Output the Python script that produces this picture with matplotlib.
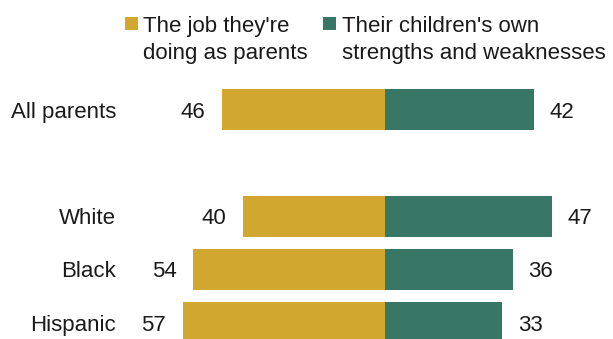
import matplotlib
matplotlib.use("Agg")
import matplotlib.pyplot as plt
from matplotlib.patches import Rectangle

plt.rcParams["font.family"] = ["Liberation Sans", "DejaVu Sans"]

# Data
groups = ["All parents", "White", "Black", "Hispanic"]
row_pos = [0, 2, 3, 4]
job_as_parents = [46, 40, 54, 57]
childrens_strengths = [42, 47, 36, 33]
series_labels = ["The job they're\ndoing as parents",
                 "Their children's own\nstrengths and weaknesses"]

gold = "#D2A730"
green = "#387666"
ink = "#1a1a1a"
fs = 16

W, H = 613, 339
fig = plt.figure(figsize=(W / 100, H / 100), dpi=100)
ax = fig.add_axes([0, 0, 1, 1])
ax.set_axis_off()

# Diverging bars: gold to the left of zero, green to the right
ax.barh(row_pos, [-v for v in job_as_parents], height=0.77, color=gold, linewidth=0)
ax.barh(row_pos, childrens_strengths, height=0.77, color=green, linewidth=0)

ax.set_xlim(-108.5, 64.3)
ax.set_ylim(4.306, -2.054)

for y, name, left, right in zip(row_pos, groups, job_as_parents, childrens_strengths):
    ax.annotate(name, xy=(-75.8, y), xytext=(0, -5.8), textcoords="offset points",
                ha="right", va="baseline", fontsize=fs, color=ink)
    ax.annotate(f"{left}", xy=(-left, y), xytext=(-12, -5.8), textcoords="offset points",
                ha="right", va="baseline", fontsize=fs, color=ink)
    ax.annotate(f"{right}", xy=(right, y), xytext=(11.5, -5.8), textcoords="offset points",
                ha="left", va="baseline", fontsize=fs, color=ink)

# Legend drawn in figure pixel space
def px(x, y):
    return x / W, 1 - y / H

for sq_x, txt_x, label, color in [(125, 143, series_labels[0], gold),
                                  (323, 342, series_labels[1], green)]:
    x0, y0 = px(sq_x, 30)
    fig.patches.append(Rectangle((x0, y0), 12.5 / W, 13 / H, transform=fig.transFigure,
                                 facecolor=color, edgecolor="none"))
    for i, line in enumerate(label.split("\n")):
        tx, ty = px(txt_x, 32 + 27.5 * i)
        fig.text(tx, ty, line, ha="left", va="baseline", fontsize=fs, color=ink)

fig.savefig("out.png", dpi=100)
